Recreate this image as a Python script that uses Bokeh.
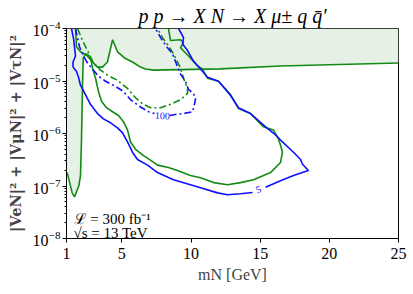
from bokeh.plotting import figure
from bokeh.models import FixedTicker, Label, Title
from bokeh.embed import file_html
from bokeh.resources import INLINE

# ---------------- data ----------------
# shaded (excluded) region
excl_x = [1.0, 1.0, 1.05, 1.41, 1.58, 1.89, 2.01, 2.08, 2.16, 2.21, 2.30, 2.52, 2.88, 3.24,
          3.60, 3.96, 4.33, 4.69, 5.19, 5.77, 6.35, 6.71, 7.29, 12.13, 16.47, 25.0, 25.0]
excl_y = [1e-4, 1.8e-7, 1.8e-7, 7.4e-8, 6.2e-8, 1.0e-7, 1.58e-7, 6.9e-7, 8.3e-6, 2.75e-5,
          3.3e-5, 3.1e-5, 2.3e-5, 1.84e-5, 1.84e-5, 2.3e-5, 6.1e-5, 3.6e-5, 2.75e-5, 2.3e-5,
          1.84e-5, 1.69e-5, 1.61e-5, 1.7e-5, 1.93e-5, 2.2e-5, 1e-4]
# border of the upper band
band_x = [1.65, 1.72, 2.01, 2.45, 2.88, 3.24, 3.60, 3.96, 4.33, 4.69, 5.19, 5.77, 6.35,
          6.71, 7.29, 12.13, 16.47, 25.0]
band_y = [1e-4, 4.5e-5, 3.6e-5, 3.1e-5, 2.3e-5, 1.84e-5, 1.84e-5, 2.3e-5, 6.1e-5, 3.6e-5,
          2.75e-5, 2.3e-5, 1.84e-5, 1.69e-5, 1.61e-5, 1.7e-5, 1.93e-5, 2.2e-5]

# green solid contour
gs_x = [1.05, 1.41, 1.58, 1.89, 2.01, 2.08, 2.16, 2.21, 2.40, 2.59, 2.76, 2.88, 3.10, 3.31,
        3.53, 3.89, 4.33, 4.76, 5.12, 5.41, 5.63, 5.99, 6.57, 7.07, 7.58, 8.37, 9.02, 9.96,
        10.69, 11.63, 12.64, 13.58, 14.52, 15.75, 16.47, 16.61, 16.47, 16.33, 15.96, 15.24,
        14.30, 13.43, 12.86, 11.99, 11.19, 10.83, 10.47, 9.82, 9.24, 9.46, 9.24, 8.52, 8.37]
gs_y = [1.8e-7, 7.4e-8, 6.2e-8, 1.0e-7, 1.58e-7, 6.9e-7, 8.3e-6, 2.75e-5, 3.3e-5, 3.1e-5,
        2.7e-5, 1.76e-5, 1.13e-5, 6.3e-6, 4.1e-6, 3.1e-6, 2.6e-6, 2.2e-6, 1.67e-6, 1.17e-6,
        6.9e-7, 5.0e-7, 3.8e-7, 3.1e-7, 2.5e-7, 2.25e-7, 1.97e-7, 1.58e-7, 1.44e-7, 1.16e-7,
        1.06e-7, 1.16e-7, 1.32e-7, 1.8e-7, 2.8e-7, 4.4e-7, 6.0e-7, 7.8e-7, 1.17e-6, 1.34e-6,
        2.4e-6, 3.0e-6, 5.5e-6, 9.9e-6, 1.13e-5, 1.69e-5, 1.93e-5, 3.0e-5, 4.3e-5, 5.4e-5,
        6.1e-5, 5.9e-5, 1e-4]

# blue solid contour "5" (two pieces around the inline label)
bs1_x = [1.36, 1.51, 1.65, 1.47, 1.47, 1.72, 1.87, 2.01, 2.37, 2.73, 3.24, 3.67, 4.18, 4.69,
         5.05, 5.41, 5.77, 6.13, 6.86, 7.58, 8.73, 9.96, 10.69, 11.92, 12.64, 13.58, 14.45]
bs1_y = [1e-4, 6.4e-5, 3.0e-5, 2.3e-5, 1.84e-5, 1.54e-5, 1.18e-5, 8.3e-6, 5.5e-6, 3.6e-6,
         2.4e-6, 1.9e-6, 1.6e-6, 1.28e-6, 1.03e-6, 6.9e-7, 4.4e-7, 3.2e-7, 2.5e-7, 1.8e-7,
         1.32e-7, 1.06e-7, 9.3e-8, 7.4e-8, 6.8e-8, 7.1e-8, 7.5e-8]
bs2_x = [15.39, 16.47, 17.41, 18.49, 18.06, 17.92, 17.41, 16.61, 16.11, 15.39, 14.30, 13.43,
         12.86, 11.99, 11.19, 10.69, 10.18, 9.75, 9.39, 9.46, 9.10]
bs2_y = [9.5e-8, 1.26e-7, 1.58e-7, 1.97e-7, 2.6e-7, 3.2e-7, 4.4e-7, 6.9e-7, 9.4e-7, 1.34e-6,
         2.4e-6, 3.1e-6, 5.3e-6, 9.9e-6, 1.18e-5, 1.69e-5, 2.4e-5, 3.8e-5, 5.1e-5, 6.7e-5, 1e-4]

# blue dash-dot contour "100"
bd1_x = [1.65, 1.94, 2.23, 2.52, 2.88, 3.31, 3.82, 4.54, 5.12, 5.63, 6.35, 6.93, 7.36]
bd1_y = [1e-4, 4.5e-5, 3.0e-5, 2.2e-5, 1.69e-5, 1.24e-5, 9.9e-6, 7.9e-6, 6.3e-6, 4.4e-6,
         3.2e-6, 2.6e-6, 2.4e-6]
bd2_x = [8.45, 8.88, 9.46, 10.11, 10.25, 10.33, 10.18, 9.82, 9.60, 9.24, 8.95, 8.66, 8.30,
         7.80, 7.43]
bd2_y = [2.2e-6, 2.3e-6, 2.4e-6, 2.6e-6, 3.6e-6, 4.6e-6, 5.8e-6, 6.9e-6, 9.9e-6, 1.35e-5,
         2.1e-5, 3.3e-5, 4.3e-5, 6.7e-5, 1e-4]

# green dash-dot contour
gd_x = [1.80, 2.16, 2.52, 2.95, 3.46, 3.96, 4.69, 5.41, 5.99, 6.49, 7.07, 7.80, 8.52, 9.24,
        9.75, 9.75, 9.46, 9.24, 8.73, 8.37, 7.94, 7.58]
gd_y = [1e-4, 5.9e-5, 3.8e-5, 2.2e-5, 1.61e-5, 1.29e-5, 1.03e-5, 7.2e-6, 4.8e-6, 3.7e-6,
        3.1e-6, 3.1e-6, 3.6e-6, 4.4e-6, 5.8e-6, 7.2e-6, 1.13e-5, 1.76e-5, 3.3e-5, 4.7e-5,
        6.7e-5, 1e-4]

# contour labels
clabel_text = ["5", "100"]
clabel_x = [14.88, 7.94]
clabel_y = [8.6e-8, 2.2e-6]

x_ticks = [1, 5, 10, 15, 20, 25]

title_text = "p p \u2192 X N \u2192 X \u03bc\u00b1 q q\u0304\u2032"
ylabel_text = "|VeN|\u00b2 + |V\u03bcN|\u00b2 + |V\u03c4N|\u00b2"
xlabel_text = "mN [GeV]"
lumi_text = "\u2112 = 300 fb\u207b\u00b9"
energy_text = "\u221as = 13 TeV"

# ---------------- styling ----------------
BLUE = "#1010ff"
GREEN = "#138a13"
FILL = "#e4f1e4"
SERIF = "Liberation Serif"

p = figure(width=413, height=294, x_range=(1, 25), y_range=(1e-8, 1e-4),
           y_axis_type="log", output_backend="svg", toolbar_location=None, title=None,
           min_border_left=66, min_border_right=15, min_border_top=28, min_border_bottom=56)
p.background_fill_color = "white"
p.border_fill_color = "white"
p.outline_line_color = "black"
p.outline_line_width = 1
p.xgrid.visible = False
p.ygrid.visible = False

p.add_layout(Title(text=title_text, align="center", text_font=SERIF,
                   text_font_style="italic", text_font_size="20px",
                   text_color="black", standoff=3), "above")

p.xaxis.ticker = FixedTicker(ticks=x_ticks, minor_ticks=[])
for ax in (p.xaxis[0], p.yaxis[0]):
    ax.axis_line_color = "black"
    ax.major_tick_in = 0
    ax.major_tick_out = 4
    ax.minor_tick_in = 0
    ax.minor_tick_out = 2
    ax.major_label_text_font = SERIF
    ax.major_label_text_font_size = "16px"
    ax.major_label_text_color = "black"
p.xaxis.minor_tick_line_color = None
p.xaxis.major_label_standoff = 5
p.yaxis.major_label_standoff = 2

p.yaxis.axis_label = ylabel_text
p.yaxis.axis_label_text_font = "DejaVu Serif"
p.yaxis.axis_label_text_font_style = "bold"
p.yaxis.axis_label_text_font_size = "14.5px"
p.yaxis.axis_label_standoff = 6

p.xaxis.axis_label = xlabel_text
p.xaxis.axis_label_text_font = SERIF
p.xaxis.axis_label_text_font_style = "normal"
p.xaxis.axis_label_text_font_size = "16px"
p.xaxis.axis_label_standoff = 4

p.patch(excl_x, excl_y, fill_color=FILL, line_color=None)
p.line(band_x, band_y, line_color=GREEN, line_width=1.6)
p.line(gs_x, gs_y, line_color=GREEN, line_width=1.6)
p.line(bs1_x, bs1_y, line_color=BLUE, line_width=1.6)
p.line(bs2_x, bs2_y, line_color=BLUE, line_width=1.6)
p.line(gd_x, gd_y, line_color=GREEN, line_width=1.6, line_dash="7 3 2 3")
p.line(bd1_x, bd1_y, line_color=BLUE, line_width=1.6, line_dash="7 3 2 3")
p.line(bd2_x, bd2_y, line_color=BLUE, line_width=1.6, line_dash="7 3 2 3")

for t, xx, yy, ang in zip(clabel_text, clabel_x, clabel_y, [0.35, -0.05]):
    p.add_layout(Label(x=xx, y=yy, text=t, text_color=BLUE, text_font=SERIF,
                       text_font_size="10px", text_align="center",
                       text_baseline="middle", angle=ang))

for t, yy in [(lumi_text, 20), (energy_text, 6)]:
    p.add_layout(Label(x=7, y=yy, x_units="screen", y_units="screen", text=t,
                       text_font=SERIF, text_font_size="15px", text_color="black",
                       text_align="left", text_baseline="alphabetic"))

open("out.html", "w").write(file_html(p, INLINE))
